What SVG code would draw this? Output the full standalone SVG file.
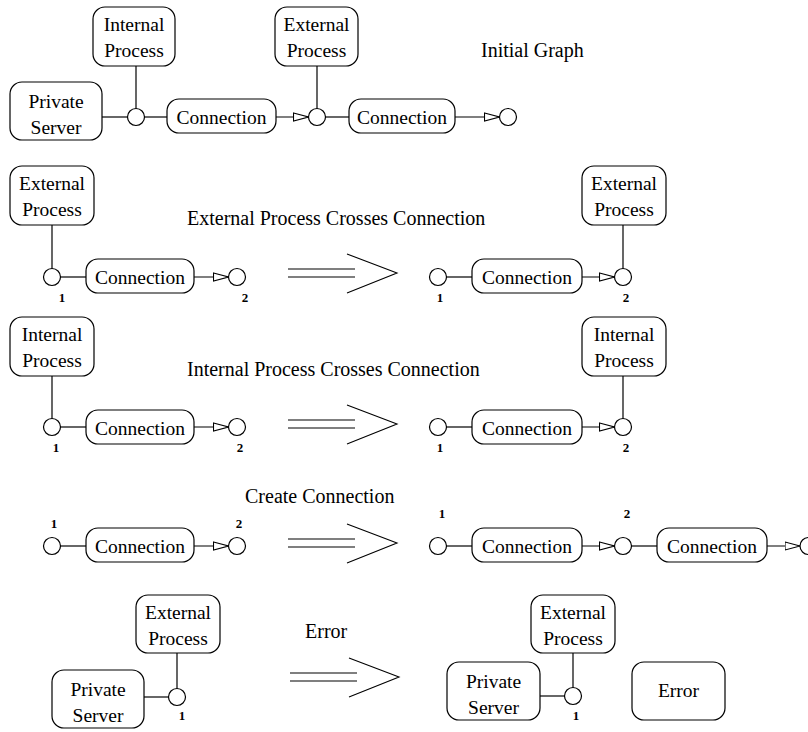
<svg xmlns="http://www.w3.org/2000/svg" width="808" height="732" viewBox="0 0 808 732">
  <style>
    .box { fill: #fff; stroke: #000; stroke-width: 1.2; }
    .port { fill: #fff; stroke: #000; stroke-width: 1.2; }
    .wire { fill: none; stroke: #000; stroke-width: 1.2; }
    .flow { fill: none; stroke: #000; stroke-width: 1.2; marker-end: url(#openTri); }
    .lbl { font-family: "Liberation Serif", "Times New Roman", serif; font-size: 19.5px; fill: #000; text-anchor: middle; }
    .title { font-family: "Liberation Serif", "Times New Roman", serif; font-size: 20px; fill: #000; }
    .num { font-family: "Liberation Serif", "Times New Roman", serif; font-size: 13px; font-weight: bold; fill: #000; text-anchor: middle; }
    .rw { fill: none; stroke: #000; stroke-width: 1.1; }
  </style>
  <defs>
    <marker id="openTri" viewBox="0 0 16 10" refX="15.5" refY="5" markerWidth="16" markerHeight="10" markerUnits="userSpaceOnUse" orient="auto">
      <path d="M0.5,1 L15.5,5 L0.5,9 Z" fill="#fff" stroke="#000" stroke-width="1.1"/>
    </marker>
    <!-- rewrite arrow: double shaft plus open chevron -->
    <g id="rewrite">
      <line x1="0" y1="-4" x2="67" y2="-4" class="rw"/>
      <line x1="0" y1="4" x2="67" y2="4" class="rw"/>
      <polyline points="59,-19 109,0 59,20" class="rw"/>
    </g>
  </defs>

  <!-- ===== Initial graph ===== -->
  <text class="title" x="481" y="57">Initial Graph</text>
  <g id="connectors-initial">
    <line class="wire" x1="102" y1="117" x2="127.5" y2="117"/>
    <line class="wire" x1="136" y1="66" x2="136" y2="108.5"/>
    <line class="wire" x1="144.5" y1="117" x2="167" y2="117"/>
    <line class="flow" x1="276" y1="117" x2="308.5" y2="117"/>
    <line class="wire" x1="317" y1="66" x2="317" y2="108.5"/>
    <line class="wire" x1="325.5" y1="117" x2="349" y2="117"/>
    <line class="flow" x1="455" y1="117" x2="499.5" y2="117"/>
  </g>
  <g id="init-private-server">
    <rect class="box" x="10" y="82" width="92" height="58" rx="12"/>
    <text class="lbl" x="56" y="108">Private</text>
    <text class="lbl" x="56" y="134">Server</text>
  </g>
  <g id="init-internal-process">
    <rect class="box" x="93" y="7" width="82" height="59" rx="12"/>
    <text class="lbl" x="134" y="31">Internal</text>
    <text class="lbl" x="134" y="57">Process</text>
  </g>
  <g id="init-port-a"><circle class="port" cx="136" cy="117" r="8.5"/></g>
  <g id="init-connection-a">
    <rect class="box" x="167" y="99" width="109" height="34" rx="12"/>
    <text class="lbl" x="221.5" y="124">Connection</text>
  </g>
  <g id="init-external-process">
    <rect class="box" x="275" y="7" width="83" height="59" rx="12"/>
    <text class="lbl" x="316.5" y="31">External</text>
    <text class="lbl" x="316.5" y="57">Process</text>
  </g>
  <g id="init-port-b"><circle class="port" cx="317" cy="117" r="8.5"/></g>
  <g id="init-connection-b">
    <rect class="box" x="349" y="99" width="106" height="34" rx="12"/>
    <text class="lbl" x="402" y="124">Connection</text>
  </g>
  <g id="init-port-c"><circle class="port" cx="508" cy="117" r="8.5"/></g>

  <!-- ===== External Process Crosses Connection ===== -->
  <text class="title" x="187" y="225">External Process Crosses Connection</text>
  <g id="connectors-ext">
    <line class="wire" x1="52" y1="225" x2="52" y2="268.5"/>
    <line class="wire" x1="60.5" y1="277" x2="86" y2="277"/>
    <line class="flow" x1="194" y1="277" x2="228.5" y2="277"/>
    <use href="#rewrite" x="288" y="273"/>
    <line class="wire" x1="446.5" y1="277" x2="472" y2="277"/>
    <line class="flow" x1="582" y1="277" x2="614.5" y2="277"/>
    <line class="wire" x1="623" y1="225" x2="623" y2="268.5"/>
  </g>
  <g id="ext-l-process">
    <rect class="box" x="10" y="166" width="84" height="59" rx="12"/>
    <text class="lbl" x="52" y="190">External</text>
    <text class="lbl" x="52" y="216">Process</text>
  </g>
  <g id="ext-l-port1"><circle class="port" cx="52" cy="277" r="8.5"/><text class="num" x="62" y="302">1</text></g>
  <g id="ext-l-connection">
    <rect class="box" x="86" y="259" width="108" height="34" rx="12"/>
    <text class="lbl" x="140" y="284">Connection</text>
  </g>
  <g id="ext-l-port2"><circle class="port" cx="237" cy="277" r="8.5"/><text class="num" x="245" y="302">2</text></g>
  <g id="ext-r-port1"><circle class="port" cx="438" cy="277" r="8.5"/><text class="num" x="440" y="302">1</text></g>
  <g id="ext-r-connection">
    <rect class="box" x="472" y="259" width="110" height="34" rx="12"/>
    <text class="lbl" x="527" y="284">Connection</text>
  </g>
  <g id="ext-r-port2"><circle class="port" cx="623" cy="277" r="8.5"/><text class="num" x="626" y="302">2</text></g>
  <g id="ext-r-process">
    <rect class="box" x="582" y="166" width="84" height="59" rx="12"/>
    <text class="lbl" x="624" y="190">External</text>
    <text class="lbl" x="624" y="216">Process</text>
  </g>

  <!-- ===== Internal Process Crosses Connection ===== -->
  <text class="title" x="187" y="376">Internal Process Crosses Connection</text>
  <g id="connectors-int">
    <line class="wire" x1="52" y1="376" x2="52" y2="418.5"/>
    <line class="wire" x1="60.5" y1="427" x2="86" y2="427"/>
    <line class="flow" x1="194" y1="427" x2="228.5" y2="427"/>
    <use href="#rewrite" x="288" y="424"/>
    <line class="wire" x1="446.5" y1="427" x2="472" y2="427"/>
    <line class="flow" x1="582" y1="427" x2="614.5" y2="427"/>
    <line class="wire" x1="623" y1="376" x2="623" y2="418.5"/>
  </g>
  <g id="int-l-process">
    <rect class="box" x="10" y="317" width="84" height="59" rx="12"/>
    <text class="lbl" x="52" y="341">Internal</text>
    <text class="lbl" x="52" y="367">Process</text>
  </g>
  <g id="int-l-port1"><circle class="port" cx="52" cy="427" r="8.5"/><text class="num" x="56" y="452">1</text></g>
  <g id="int-l-connection">
    <rect class="box" x="86" y="410" width="108" height="34" rx="12"/>
    <text class="lbl" x="140" y="435">Connection</text>
  </g>
  <g id="int-l-port2"><circle class="port" cx="237" cy="427" r="8.5"/><text class="num" x="240" y="452">2</text></g>
  <g id="int-r-port1"><circle class="port" cx="438" cy="427" r="8.5"/><text class="num" x="440" y="452">1</text></g>
  <g id="int-r-connection">
    <rect class="box" x="472" y="410" width="110" height="34" rx="12"/>
    <text class="lbl" x="527" y="435">Connection</text>
  </g>
  <g id="int-r-port2"><circle class="port" cx="623" cy="427" r="8.5"/><text class="num" x="626" y="452">2</text></g>
  <g id="int-r-process">
    <rect class="box" x="582" y="317" width="84" height="59" rx="12"/>
    <text class="lbl" x="624" y="341">Internal</text>
    <text class="lbl" x="624" y="367">Process</text>
  </g>

  <!-- ===== Create Connection ===== -->
  <text class="title" x="245" y="503">Create Connection</text>
  <g id="connectors-create">
    <line class="wire" x1="60.5" y1="546" x2="86" y2="546"/>
    <line class="flow" x1="194" y1="546" x2="228.5" y2="546"/>
    <use href="#rewrite" x="288" y="543"/>
    <line class="wire" x1="446.5" y1="546" x2="472" y2="546"/>
    <line class="flow" x1="582" y1="546" x2="614.5" y2="546"/>
    <line class="wire" x1="631.5" y1="546" x2="657" y2="546"/>
    <line class="flow" x1="767" y1="546" x2="800" y2="546"/>
  </g>
  <g id="cre-l-port1"><circle class="port" cx="52" cy="546" r="8.5"/><text class="num" x="54" y="528">1</text></g>
  <g id="cre-l-connection">
    <rect class="box" x="86" y="528" width="108" height="34" rx="12"/>
    <text class="lbl" x="140" y="553">Connection</text>
  </g>
  <g id="cre-l-port2"><circle class="port" cx="237" cy="546" r="8.5"/><text class="num" x="239" y="528">2</text></g>
  <g id="cre-r-port1"><circle class="port" cx="438" cy="546" r="8.5"/><text class="num" x="442" y="518">1</text></g>
  <g id="cre-r-connection-a">
    <rect class="box" x="472" y="528" width="110" height="34" rx="12"/>
    <text class="lbl" x="527" y="553">Connection</text>
  </g>
  <g id="cre-r-port2"><circle class="port" cx="623" cy="546" r="8.5"/><text class="num" x="627" y="518">2</text></g>
  <g id="cre-r-connection-b">
    <rect class="box" x="657" y="528" width="110" height="34" rx="12"/>
    <text class="lbl" x="712" y="553">Connection</text>
  </g>
  <g id="cre-r-port3"><circle class="port" cx="808.5" cy="546" r="8.5"/></g>

  <!-- ===== Error ===== -->
  <text class="title" x="305" y="638">Error</text>
  <g id="connectors-err">
    <line class="wire" x1="144" y1="697" x2="168.5" y2="697"/>
    <line class="wire" x1="177" y1="653" x2="177" y2="688.5"/>
    <use href="#rewrite" x="290" y="677"/>
    <line class="wire" x1="540" y1="696" x2="564.5" y2="696"/>
    <line class="wire" x1="573" y1="653" x2="573" y2="687.5"/>
  </g>
  <g id="err-l-process">
    <rect class="box" x="136" y="595" width="84" height="58" rx="12"/>
    <text class="lbl" x="178" y="619">External</text>
    <text class="lbl" x="178" y="645">Process</text>
  </g>
  <g id="err-l-server">
    <rect class="box" x="52" y="670" width="92" height="58" rx="12"/>
    <text class="lbl" x="98" y="696">Private</text>
    <text class="lbl" x="98" y="722">Server</text>
  </g>
  <g id="err-l-port1"><circle class="port" cx="177" cy="697" r="8.5"/><text class="num" x="182" y="720">1</text></g>
  <g id="err-r-process">
    <rect class="box" x="531" y="595" width="84" height="58" rx="12"/>
    <text class="lbl" x="573" y="619">External</text>
    <text class="lbl" x="573" y="645">Process</text>
  </g>
  <g id="err-r-server">
    <rect class="box" x="447" y="662" width="93" height="58" rx="12"/>
    <text class="lbl" x="493.5" y="688">Private</text>
    <text class="lbl" x="493.5" y="714">Server</text>
  </g>
  <g id="err-r-port1"><circle class="port" cx="573" cy="696" r="8.5"/><text class="num" x="576" y="720">1</text></g>
  <g id="err-r-error">
    <rect class="box" x="632" y="662" width="93" height="58" rx="12"/>
    <text class="lbl" x="678.5" y="697">Error</text>
  </g>
</svg>
